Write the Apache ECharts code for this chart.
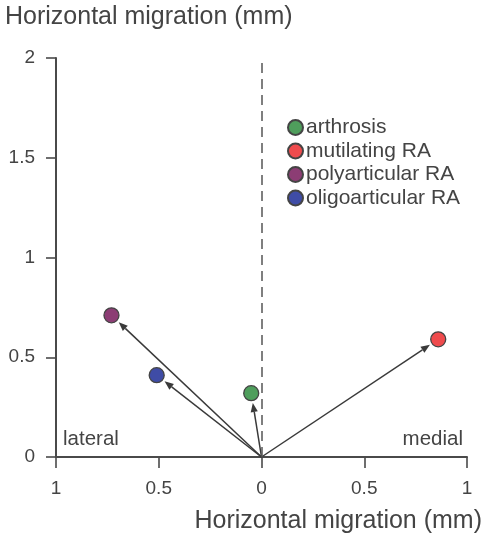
<!DOCTYPE html>
<html><head><meta charset="utf-8">
<script src="https://cdn.jsdelivr.net/npm/echarts@6/dist/echarts.min.js"></script>
<style>html,body{margin:0;padding:0;background:#fff}#c{width:487px;height:536px}</style>
</head><body><div id="c"></div>
<script>
const seriesNames = ['arthrosis', 'mutilating RA', 'polyarticular RA', 'oligoarticular RA'];
const xValues = [-0.05, 0.86, -0.73, -0.51];
const yValues = [0.32, 0.59, 0.71, 0.41];
const colors = ['#4f9e5c', '#ef4b4d', '#8c3d74', '#3f4ca6'];
const xTicks = [-1, -0.5, 0, 0.5, 1];
const yTicks = [0, 0.5, 1, 1.5, 2];
const axisTitle = 'Horizontal migration (mm)';
const sideLabels = ['lateral', 'medial'];

const FONT = '"Liberation Sans", Arial, sans-serif';
const chart = echarts.init(document.getElementById('c'));

const arrowData = xValues.map((x, i) => [x, yValues[i]]);

const series = seriesNames.map((n, i) => ({
  name: n, type: 'scatter', z: 5,
  symbol: 'circle', symbolSize: 15,
  itemStyle: { color: colors[i], borderColor: '#444', borderWidth: 1.3, opacity: 1 },
  data: [[xValues[i], yValues[i]]]
}));

series.push({
  type: 'custom', z: 2, silent: true,
  data: arrowData,
  renderItem: function (params, api) {
    const p0 = api.coord([0, 0]);
    const p1 = api.coord([api.value(0), api.value(1)]);
    const dx = p1[0] - p0[0], dy = p1[1] - p0[1];
    const len = Math.sqrt(dx * dx + dy * dy);
    const ux = dx / len, uy = dy / len;
    const endLen = len - 10;
    const tip = [p0[0] + ux * endLen, p0[1] + uy * endLen];
    const hl = 9, hw = 3.6;
    const base = [tip[0] - ux * hl, tip[1] - uy * hl];
    const px = -uy, py = ux;
    return {
      type: 'group',
      children: [
        { type: 'line', shape: { x1: p0[0], y1: p0[1], x2: base[0], y2: base[1] },
          style: { stroke: '#3a3a3a', lineWidth: 1.5 } },
        { type: 'polygon', shape: { points: [tip, [base[0] + px * hw, base[1] + py * hw], [base[0] - px * hw, base[1] - py * hw]] },
          style: { fill: '#3a3a3a' } }
      ]
    };
  }
});

series.push({
  type: 'line', data: [], silent: true,
  markLine: {
    symbol: 'none', silent: true, label: { show: false },
    lineStyle: { color: '#555', type: [10, 6], width: 1.5 },
    data: [[{ coord: [0, yTicks[0]] }, { coord: [0, 1.98] }]]
  }
});

chart.setOption({
  animation: false,
  grid: { left: 56, right: 20, top: 58, bottom: 79 },
  legend: {
    orient: 'vertical', left: 282, top: 112,
    data: seriesNames,
    icon: 'circle', itemWidth: 15, itemHeight: 15, itemGap: 2.5,
    textStyle: { fontFamily: FONT, fontSize: 21, lineHeight: 21, color: '#444', padding: [0, 0, 0, -2] }
  },
  xAxis: {
    type: 'value', min: xTicks[0], max: xTicks[xTicks.length - 1], interval: 0.5,
    splitLine: { show: false },
    axisLine: { onZero: false, lineStyle: { color: '#4a4a4a', width: 2 } },
    axisTick: { show: true, length: 11, lineStyle: { color: '#4a4a4a', width: 1.6 } },
    axisLabel: { formatter: v => String(Math.abs(v)), fontFamily: FONT, fontSize: 19, color: '#444', margin: 22 }
  },
  yAxis: {
    type: 'value', min: yTicks[0], max: yTicks[yTicks.length - 1], interval: 0.5,
    splitLine: { show: false },
    axisLine: { show: true, onZero: false, lineStyle: { color: '#4a4a4a', width: 2 } },
    axisTick: { show: true, length: 10, lineStyle: { color: '#4a4a4a', width: 1.6 } },
    axisLabel: { formatter: v => String(v), fontFamily: FONT, fontSize: 19, color: '#444', margin: 21 }
  },
  graphic: [
    { type: 'text', left: 5, top: 5, style: { text: axisTitle, font: '25px ' + FONT, fill: '#444' } },
    { type: 'text', right: 5, top: 509, style: { text: axisTitle, font: '25px ' + FONT, fill: '#444' } },
    { type: 'text', left: 63, top: 429, style: { text: sideLabels[0], font: '20.5px ' + FONT, fill: '#444' } },
    { type: 'text', right: 24, top: 429, style: { text: sideLabels[1], font: '20.5px ' + FONT, fill: '#444' } }
  ],
  series: series
});
</script></body></html>
